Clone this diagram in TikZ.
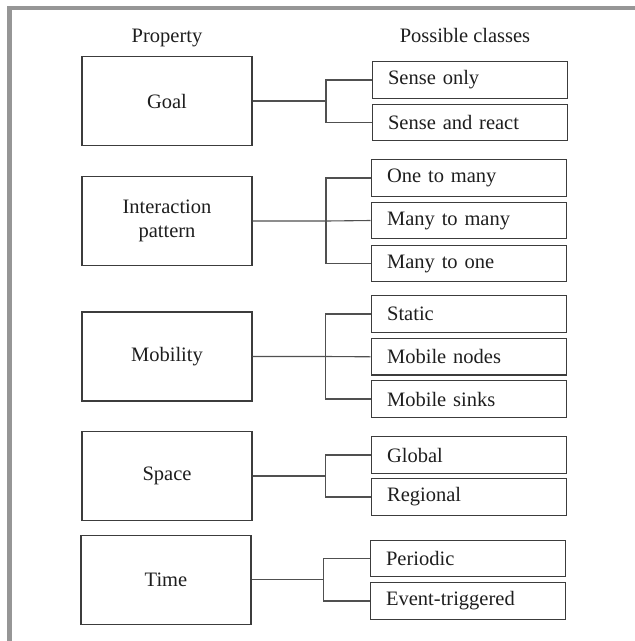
\documentclass[tikz,border=0pt]{standalone}
\usepackage{fontspec}
\setmainfont{Liberation Serif}
\definecolor{frame}{RGB}{150,150,150}
\definecolor{ink}{RGB}{30,30,30}
\definecolor{edge}{RGB}{60,60,60}
\definecolor{wire}{RGB}{80,80,80}
\begin{document}
\begin{tikzpicture}[x=1pt,y=-1pt,
  every node/.style={font=\fontsize{20.5}{23.5}\selectfont, text=ink},
  prop/.style={draw=edge, line width=1.2pt, rectangle, minimum width=170pt, minimum height=89pt, align=center, inner sep=0pt},
  cls/.style={draw=edge, line width=1.2pt, rectangle, anchor=west, text width=163pt, inner xsep=16pt, inner ysep=0pt, minimum height=36.5pt, align=left},
  head/.style={anchor=base},
  wire/.style={draw=wire, line width=1.1pt}]
\useasboundingbox (0,0) rectangle (635,641);
% frame (left and top edges)
\fill[frame] (7,6) rectangle (635,9.5);
\fill[frame] (7,6) rectangle (12,641);

% headers
\node[head] (hprop) at (167,42) {Property};
\node[head] (hcls) at (465,42) {Possible classes};

% property boxes
\node[prop] (goal) at (167,101) {Goal};
\node[prop] (inter) at (167,221) {Interaction\\pattern};
\node[prop] (mob) at (167,356.5) {Mobility};
\node[prop] (space) at (167,476) {Space};
\node[prop] (time) at (166,579.7) {Time};

% class boxes
\node[cls] (g1) at (371.5,80) {Sense only};
\node[cls] (g2) at (371.5,122.5) {Sense and react};
\node[cls] (i1) at (370.5,178) {One to many};
\node[cls] (i2) at (370.5,220.5) {Many to many};
\node[cls] (i3) at (370.5,263.5) {Many to one};
\node[cls] (m1) at (370.5,314) {Static};
\node[cls] (m2) at (370.5,356.8) {Mobile nodes};
\node[cls] (m3) at (370.5,399) {Mobile sinks};
\node[cls] (s1) at (370.5,455) {Global};
\node[cls] (s2) at (370.5,497) {Regional};
\node[cls] (t1) at (369.5,558.5) {Periodic};
\node[cls] (t2) at (369.5,601) {Event-triggered};

% branch points
\coordinate (gb) at (326,101);
\coordinate (ib) at (326,221);
\coordinate (mb) at (325.7,356.5);
\coordinate (sb) at (325.7,476);
\coordinate (tb) at (323.3,579.7);

% connectors
\draw[wire] (goal.east) -- (gb);
\draw[wire] (g1.west) -| (gb) |- (g2.west);
\draw[wire] (inter.east) -- (ib) -- (i2.west);
\draw[wire] (i1.west) -| (ib) |- (i3.west);
\draw[wire] (mob.east) -- (mb) -- (m2.west);
\draw[wire] (m1.west) -| (mb) |- (m3.west);
\draw[wire] (space.east) -- (sb);
\draw[wire] (s1.west) -| (sb) |- (s2.west);
\draw[wire] (time.east) -- (tb);
\draw[wire] (t1.west) -| (tb) |- (t2.west);
\end{tikzpicture}
\end{document}
